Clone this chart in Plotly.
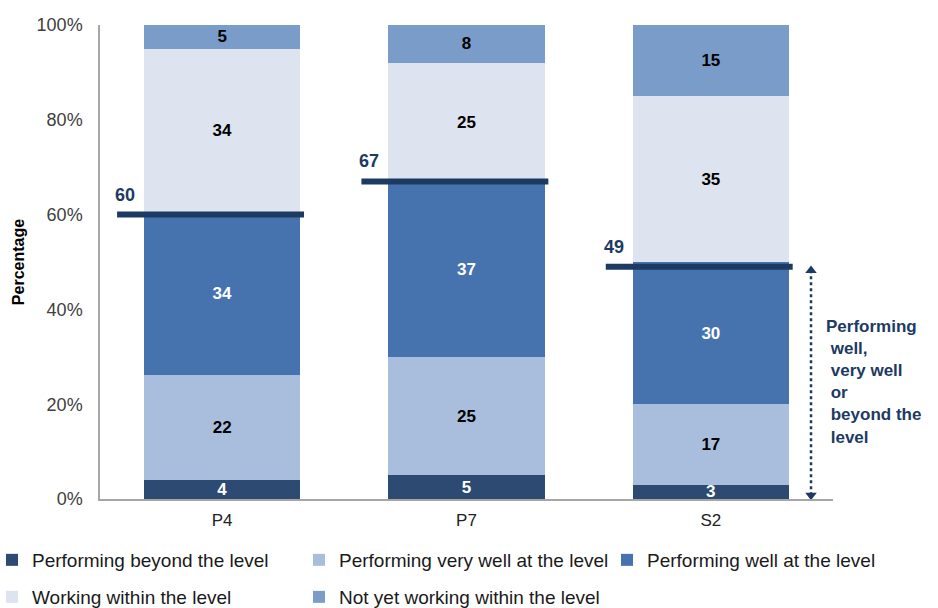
import plotly.graph_objects as go

stages = ["P4", "P7", "S2"]
beyond = [4, 5, 3]
very_well = [22, 25, 17]
well = [34, 37, 30]
within = [34, 25, 35]
not_yet = [5, 8, 15]
benchmark = [60, 67, 49]
yticks = [0, 20, 40, 60, 80, 100]

series = [
    ("Performing beyond the level", beyond, "#2d4a72", "white"),
    ("Performing very well at the level", very_well, "#a9bedd", "black"),
    ("Performing well at the level", well, "#4672ae", "white"),
    ("Working within the level", within, "#dde4ef", "black"),
    ("Not yet working within the level", not_yet, "#7a9cc9", "black"),
]

# legend slots (left edge px, row centre px) - two rows like the original
leg_slots = [(-8, 560), (299, 560), (607, 560), (-8, 597), (299, 597)]

navy = "#1d3a63"
xpos = list(range(len(stages)))
L, R, T, B = 100, 105, 25, 109
W, H = 938, 608
pw, ph = W - L - R, H - T - B

fig = go.Figure()
legends = {}
legfont = dict(size=19, color="#1a1a1a", family="Liberation Sans")
for k, (name, vals, color, tcolor) in enumerate(series):
    lname = "legend" if k == 0 else "legend%d" % (k + 1)
    fig.add_trace(go.Bar(
        x=xpos, y=vals, name=name, width=0.64,
        marker=dict(color=color, line=dict(width=0)),
        text=vals, textposition="inside", insidetextanchor="middle",
        constraintext="none", textangle=0,
        textfont=dict(color=tcolor, size=17, family="Liberation Sans", weight="bold"),
        legend=lname, hoverinfo="skip",
    ))
    px, py = leg_slots[k]
    legends[lname] = dict(orientation="h", x=(px - L) / pw, xanchor="left",
                          y=(H - B - py) / ph, yanchor="middle", font=legfont,
                          itemwidth=30, bgcolor="rgba(0,0,0,0)")

# benchmark bars (well / very well / beyond total)
for i, v in enumerate(benchmark):
    fig.add_trace(go.Scatter(
        x=[i - 0.43, i + 0.335], y=[v, v], mode="lines",
        line=dict(color=navy, width=6), showlegend=False, hoverinfo="skip",
    ))
    fig.add_annotation(x=i - 0.43, y=v, text="<b>%d</b>" % v, showarrow=False,
                       xanchor="left", yanchor="bottom", xshift=-4, yshift=8,
                       font=dict(size=18, color=navy, family="Liberation Sans"))

# dotted arrow for S2
fig.add_trace(go.Scatter(
    x=[2.41, 2.41], y=[0.8, benchmark[2] - 0.8], mode="lines+markers",
    line=dict(color=navy, width=2.5, dash="dot"),
    marker=dict(symbol=["triangle-down", "triangle-up"], size=10, color=navy),
    showlegend=False, hoverinfo="skip",
))
fig.add_annotation(
    x=2.465, y=38.8, xanchor="left", yanchor="top", align="left", showarrow=False,
    text="<b>Performing<br>&nbsp;well,<br>&nbsp;very well<br>&nbsp;or<br>&nbsp;beyond the<br>&nbsp;level</b>",
    font=dict(size=17, color=navy, family="Liberation Sans"),
)

fig.update_layout(
    barmode="stack", barnorm="percent",
    width=W, height=H,
    margin=dict(l=L, r=R, t=T, b=B, autoexpand=False),
    plot_bgcolor="white", paper_bgcolor="white",
    font=dict(family="Liberation Sans", size=17, color="#404040"),
    xaxis=dict(range=[-0.5, 2.5], tickvals=xpos, ticktext=stages, showline=True,
               linecolor="#a6a6a6", linewidth=1.5, showgrid=False, zeroline=False,
               ticks="", ticklabelstandoff=5, tickfont=dict(size=17, color="#222")),
    yaxis=dict(range=[0, 100], tickvals=yticks, ticktext=["%d%%" % t for t in yticks],
               showline=True, linecolor="#a6a6a6", linewidth=1.5, showgrid=False,
               zeroline=False, ticks="", ticklabelstandoff=12,
               tickfont=dict(size=18, color="#404040"),
               title=dict(text="<b>Percentage</b>", standoff=8,
                          font=dict(size=16, color="black"))),
    **legends,
)

fig.write_html("out.html", config={"displayModeBar": False},
               post_script="document.body.style.margin='0';")
